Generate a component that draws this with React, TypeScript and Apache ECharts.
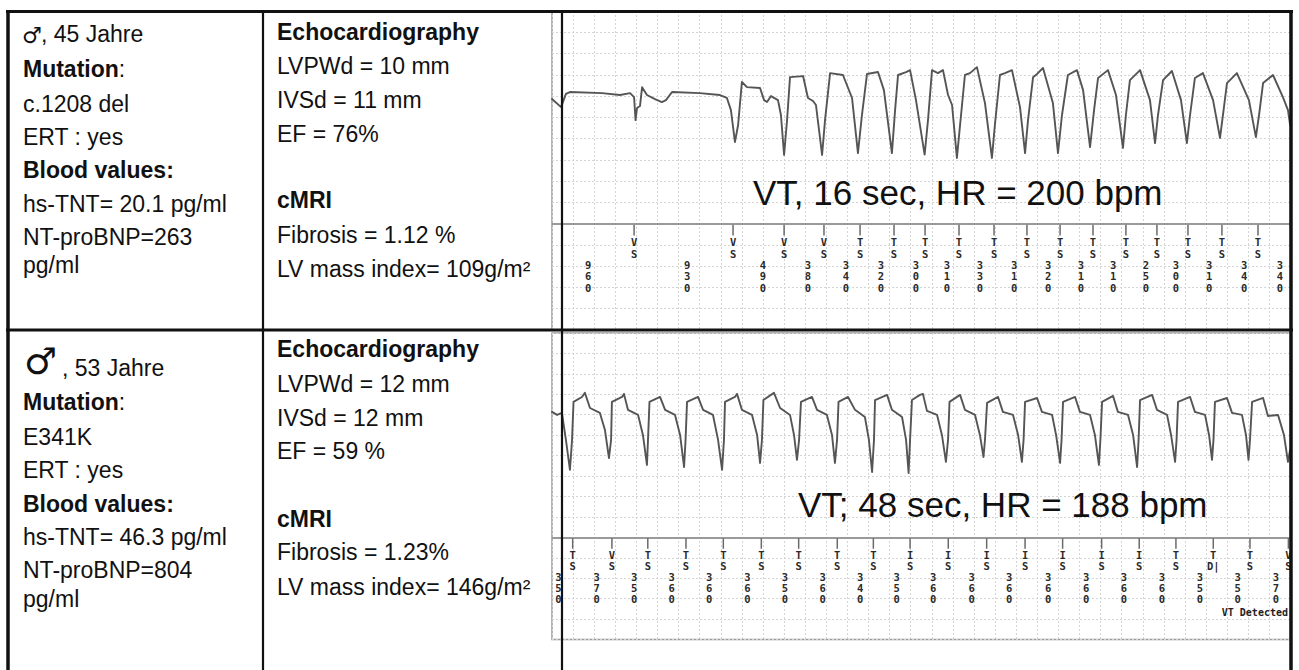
import React, { useEffect, useRef } from "react";
import * as echarts from "echarts";

const FONT = '"Liberation Sans", Arial, Helvetica, sans-serif';
const MONO = '"DejaVu Sans Mono", "Liberation Mono", monospace';

// ---------- DATA ----------
// ECG strips: [time (grid boxes), amplitude (grid boxes)]
const ECG_1: [number, number][] = [
  [0.0, 10.86], [0.43, 10.48], [0.66, 11.1], [0.85, 11.19], [2.37, 11.14], [3.22, 11.05], [3.7, 11.14],
  [3.89, 10.95], [3.96, 9.87], [4.03, 10.44], [4.17, 10.53], [4.27, 11.42], [4.5, 11.05], [4.88, 10.86],
  [5.21, 10.72], [5.4, 10.81], [5.69, 11.19], [7.01, 11.14], [7.96, 11.05], [8.29, 10.91], [8.48, 10.34],
  [8.67, 8.84], [8.82, 9.64], [9.0, 11.66], [9.24, 11.42], [9.86, 11.38], [10.05, 10.81], [10.19, 10.72],
  [10.38, 11.0], [10.71, 10.81], [10.85, 10.11], [11.0, 8.23], [11.14, 9.87], [11.28, 11.89], [11.9, 11.94],
  [12.13, 10.91], [12.37, 10.77], [12.51, 10.58], [12.8, 8.23], [12.94, 9.87], [13.18, 12.08], [13.79, 11.99],
  [14.22, 10.91], [14.5, 8.32], [14.69, 10.11], [14.93, 12.04], [15.45, 12.13], [15.73, 11.28], [16.11, 8.32],
  [16.26, 10.34], [16.4, 11.99], [16.78, 12.13], [16.97, 12.22], [17.25, 10.81], [17.66, 8.25], [17.82, 9.87],
  [18.01, 12.22], [18.29, 12.08], [18.53, 12.22], [18.77, 11.05], [18.96, 10.58], [19.19, 8.09], [19.34, 9.64],
  [19.57, 11.99], [19.81, 12.08], [20.14, 12.36], [20.52, 10.67], [20.85, 8.09], [20.99, 9.64], [21.23, 11.99],
  [21.47, 12.08], [21.8, 12.22], [22.18, 10.48], [22.42, 8.32], [22.56, 9.87], [22.8, 11.89], [22.99, 12.04],
  [23.27, 12.32], [23.74, 10.67], [23.98, 8.32], [24.17, 10.11], [24.45, 11.99], [24.88, 12.22], [25.17, 11.28],
  [25.5, 8.6], [25.69, 10.34], [25.88, 11.85], [26.35, 12.22], [26.73, 11.05], [27.06, 8.56], [27.2, 10.11],
  [27.39, 11.75], [27.87, 12.22], [28.34, 10.81], [28.58, 8.79], [28.72, 10.11], [28.96, 11.75], [29.38, 12.18],
  [29.81, 10.81], [30.09, 8.79], [30.24, 10.11], [30.47, 11.85], [30.85, 12.08], [31.33, 10.81], [31.66, 9.03],
  [31.8, 10.11], [31.99, 11.61], [32.46, 12.08], [33.03, 10.81], [33.36, 9.07], [33.51, 10.11], [33.7, 11.61],
  [34.17, 11.99], [34.64, 10.95], [34.88, 10.34], [34.98, 9.64],
];

const ECG_2: [number, number][] = [
  [0.0, 11.14], [0.24, 10.99], [0.47, 11.09], [0.66, 9.77], [0.85, 8.3], [0.95, 9.77], [1.02, 11.63],
  [1.42, 11.87], [1.56, 12.07], [1.8, 11.33], [2.27, 11.09], [2.51, 10.25], [2.7, 8.88], [2.8, 9.77],
  [2.84, 11.63], [3.32, 11.87], [3.41, 12.02], [3.6, 11.24], [4.08, 10.99], [4.31, 10.01], [4.5, 8.54],
  [4.55, 9.77], [4.62, 11.63], [5.12, 11.87], [5.36, 11.24], [5.83, 10.99], [6.07, 10.01], [6.26, 8.44],
  [6.33, 9.77], [6.4, 11.63], [6.92, 11.87], [7.16, 11.24], [7.63, 10.99], [7.87, 9.77], [8.06, 8.3],
  [8.15, 9.77], [8.2, 11.63], [8.67, 11.87], [8.77, 12.02], [9.0, 11.24], [9.48, 10.99], [9.72, 10.01],
  [9.86, 8.64], [9.95, 9.77], [10.02, 11.72], [10.52, 12.07], [10.81, 11.33], [11.28, 10.99], [11.47, 10.01],
  [11.61, 8.79], [11.71, 9.77], [11.8, 11.63], [12.32, 11.87], [12.56, 11.24], [13.03, 10.99], [13.27, 10.01],
  [13.41, 8.64], [13.51, 9.77], [13.58, 11.63], [14.03, 11.87], [14.36, 11.24], [14.83, 10.89], [15.02, 9.77],
  [15.17, 8.2], [15.26, 9.77], [15.31, 11.72], [15.88, 11.97], [16.11, 11.24], [16.59, 10.89], [16.78, 9.77],
  [16.9, 8.15], [16.97, 9.77], [17.06, 11.72], [17.44, 11.97], [17.58, 12.02], [17.77, 11.19], [18.25, 10.99],
  [18.48, 10.01], [18.67, 8.69], [18.77, 9.77], [18.84, 11.63], [19.34, 11.97], [19.57, 11.24], [20.05, 10.99],
  [20.28, 10.01], [20.45, 8.93], [20.52, 9.77], [20.62, 11.58], [21.14, 11.87], [21.37, 11.14], [21.85, 10.99],
  [22.09, 10.01], [22.27, 8.69], [22.35, 9.77], [22.42, 11.63], [22.99, 11.82], [23.22, 11.14], [23.7, 10.99],
  [23.89, 10.01], [24.08, 8.64], [24.15, 9.77], [24.22, 11.63], [24.79, 11.87], [25.02, 11.14], [25.5, 10.99],
  [25.73, 10.01], [25.92, 8.54], [25.99, 9.77], [26.07, 11.63], [26.59, 11.92], [26.82, 11.14], [27.3, 10.99],
  [27.54, 10.01], [27.73, 8.44], [27.8, 9.77], [27.87, 11.72], [28.44, 11.97], [28.67, 11.24], [29.15, 10.99],
  [29.34, 10.01], [29.53, 8.69], [29.6, 9.77], [29.67, 11.63], [30.24, 11.87], [30.47, 11.14], [30.95, 10.99],
  [31.14, 10.01], [31.28, 8.79], [31.35, 9.77], [31.42, 11.63], [31.99, 11.82], [32.23, 11.09], [32.7, 10.99],
  [32.89, 10.01], [33.01, 8.79], [33.08, 9.77], [33.18, 11.63], [33.7, 11.82], [33.93, 10.94], [34.41, 10.99],
  [34.69, 10.01], [34.88, 8.69], [34.98, 9.28],
];

// Marker channel: [time, upper label, lower label]
const MARKERS_1: [number, string, string][] = [
  [3.89, "V", "S"], [8.58, "V", "S"], [11.0, "V", "S"], [12.89, "V", "S"], [14.6, "T", "S"], [16.21, "T", "S"],
  [17.68, "T", "S"], [19.29, "T", "S"], [20.95, "T", "S"], [22.51, "T", "S"], [24.08, "T", "S"], [25.64, "T", "S"],
  [27.2, "T", "S"], [28.67, "T", "S"], [30.14, "T", "S"], [31.75, "T", "S"], [33.46, "T", "S"],
];
// Intervals (ms): [time, value]
const INTERVALS_1: [number, number][] = [
  [1.71, 960], [6.4, 930], [10.0, 490], [12.13, 380], [13.93, 340], [15.59, 320], [17.25, 300], [18.72, 310],
  [20.28, 330], [21.9, 310], [23.51, 320], [25.07, 310], [26.59, 310], [28.15, 250], [29.57, 300], [31.14, 310],
  [32.8, 340], [34.5, 340],
];

const MARKERS_2: [number, string, string][] = [
  [0.98, "T", "S"], [2.84, "V", "S"], [4.54, "T", "S"], [6.35, "T", "S"], [8.12, "T", "S"], [9.92, "T", "S"],
  [11.69, "T", "S"], [13.52, "T", "S"], [15.23, "T", "S"], [16.97, "I", "S"], [18.78, "I", "S"], [20.6, "I", "S"],
  [22.42, "I", "S"], [24.2, "I", "S"], [26.05, "I", "S"], [27.83, "I", "S"], [29.57, "T", "S"], [31.34, "T", "D|"],
  [33.08, "T", "S"], [34.9, "V", "S"],
];
const INTERVALS_2: [number, number][] = [
  [0.3, 350], [2.12, 370], [3.89, 350], [5.67, 360], [7.45, 360], [9.26, 360], [11.04, 350], [12.83, 360],
  [14.6, 340], [16.34, 350], [18.07, 360], [19.89, 360], [21.67, 360], [23.52, 360], [25.31, 360], [27.11, 360],
  [28.9, 360], [30.71, 350], [32.5, 350], [34.31, 370],
];

const STRIP_NOTE_1 = "VT, 16 sec, HR = 200 bpm";
const STRIP_NOTE_2 = "VT; 48 sec, HR = 188 bpm";
const DETECT_NOTE = "VT Detected";

const P1_PERSON = ", 45 Jahre";
const P1_LEFT = ["{b|Mutation}:", "c.1208 del", "ERT : yes", "{b|Blood values:}", "hs-TNT= 20.1 pg/ml", "NT-proBNP=263", "pg/ml"];
const P1_MID = ["{b|Echocardiography}", "LVPWd = 10 mm", "IVSd = 11 mm", "EF = 76%", "{b|cMRI}", "Fibrosis = 1.12 %", "LV mass index= 109g/m²"];
const P2_PERSON = ", 53 Jahre";
const P2_LEFT = ["{b|Mutation}:", "E341K", "ERT : yes", "{b|Blood values:}", "hs-TNT= 46.3 pg/ml", "NT-proBNP=804", "pg/ml"];
const P2_MID = ["{b|Echocardiography}", "LVPWd = 12 mm", "IVSd = 12 mm", "EF = 59 %", "{b|cMRI}", "Fibrosis = 1.23%", "LV mass index= 146g/m²"];

// ---------- LAYOUT ----------
const LEFT_X = 23;
const MID_X = 277;
const P1_LEFT_Y = [68.7, 103.7, 137, 170.3, 203.7, 237, 265];
const P1_MID_Y = [32, 66, 100.3, 133.7, 200.3, 234.7, 268.7];
const P2_LEFT_Y = [402, 437, 470.3, 503.7, 537, 570.3, 598.7];
const P2_MID_Y = [348.7, 383.7, 418, 451.3, 518.7, 552, 587];
const SEP_LEVEL = 5;
const TEXT_SIZE = 23;

function textEl(text: string, x: number, y: number, extra: any = {}) {
  return {
    type: "text",
    x,
    y,
    z: 60,
    style: {
      text,
      fill: "#111",
      fontSize: TEXT_SIZE,
      fontFamily: FONT,
      align: "left",
      verticalAlign: "middle",
      lineHeight: 28,
      rich: { b: { fontWeight: "bold", fontSize: TEXT_SIZE, fontFamily: FONT, fill: "#111", lineHeight: 28 } },
      ...extra,
    },
  };
}

function lineEl(x1: number, y1: number, x2: number, y2: number, w: number, c = "#111") {
  return { type: "line", z: 80, shape: { x1, y1, x2, y2 }, style: { stroke: c, lineWidth: w } };
}

function markerRender(markers: [number, string, string][]) {
  return (params: any, api: any) => {
    const m = markers[params.dataIndex];
    const p = api.coord([api.value(0), SEP_LEVEL]);
    const u = api.size([0, 1])[1];
    const font = `bold 10.5px ${MONO}`;
    return {
      type: "group",
      children: [
        { type: "line", shape: { x1: p[0], y1: p[1] + 1, x2: p[0], y2: p[1] + 0.56 * u }, style: { stroke: "#6a6a6a", lineWidth: 1.5 } },
        { type: "text", x: p[0], y: p[1] + 0.85 * u, style: { text: m[1], fill: "#2a2a2a", font, align: "center", verticalAlign: "middle" } },
        { type: "text", x: p[0], y: p[1] + 1.41 * u, style: { text: m[2], fill: "#2a2a2a", font, align: "center", verticalAlign: "middle" } },
      ],
    };
  };
}

function intervalRender(intervals: [number, number][]) {
  return (params: any, api: any) => {
    const v = intervals[params.dataIndex][1];
    const p = api.coord([api.value(0), SEP_LEVEL]);
    const u = api.size([0, 1])[1];
    return {
      type: "text",
      x: p[0],
      y: p[1] + 2.47 * u,
      style: {
        text: String(v).split("").join("\n"),
        fill: "#2a2a2a",
        font: `bold 10.5px ${MONO}`,
        lineHeight: 0.55 * u,
        align: "center",
        verticalAlign: "middle",
      },
    };
  };
}

function buildOption() {
  const grids = [
    { left: 552, top: 11, width: 738.5, height: 319 },
    { left: 552, top: 333, width: 738.5, height: 306.5 },
  ].map((g) => ({ ...g, show: true, borderColor: "#9a9a9a", borderWidth: 1.5, backgroundColor: "transparent" }));

  const split = { show: true, lineStyle: { color: "#d4d4d4", width: 1, type: [2, 2] } };
  const xAxis = [0, 1].map((i) => ({
    type: "value", gridIndex: i, min: 0, max: 35, interval: 1,
    axisLine: { show: false }, axisTick: { show: false }, axisLabel: { show: false }, splitLine: split,
  }));
  const yAxis = [0, 1].map((i) => ({
    type: "value", gridIndex: i, min: 0, max: 15, interval: 1,
    axisLine: { show: false }, axisTick: { show: false }, axisLabel: { show: false }, splitLine: split,
  }));

  const sepLine = {
    silent: true, symbol: ["none", "none"], label: { show: false },
    lineStyle: { color: "#9a9a9a", width: 2, type: "solid" }, data: [{ yAxis: SEP_LEVEL }],
  };
  const ecgStyle = { color: "#555555", width: 1.9, cap: "round", join: "round" };

  const series: any[] = [
    { type: "line", xAxisIndex: 0, yAxisIndex: 0, data: ECG_1, symbol: "none", lineStyle: ecgStyle, markLine: sepLine, z: 5 },
    { type: "line", xAxisIndex: 1, yAxisIndex: 1, data: ECG_2, symbol: "none", lineStyle: ecgStyle, markLine: sepLine, z: 5 },
    { type: "custom", xAxisIndex: 0, yAxisIndex: 0, data: MARKERS_1.map((m) => [m[0]]), renderItem: markerRender(MARKERS_1), z: 6 },
    { type: "custom", xAxisIndex: 0, yAxisIndex: 0, data: INTERVALS_1.map((m) => [m[0], m[1]]), renderItem: intervalRender(INTERVALS_1), z: 6 },
    { type: "custom", xAxisIndex: 1, yAxisIndex: 1, data: MARKERS_2.map((m) => [m[0]]), renderItem: markerRender(MARKERS_2), z: 6 },
    { type: "custom", xAxisIndex: 1, yAxisIndex: 1, data: INTERVALS_2.map((m) => [m[0], m[1]]), renderItem: intervalRender(INTERVALS_2), z: 6 },
  ];

  const elements: any[] = [
    // table lines
    lineEl(6, 11.5, 1293, 11.5, 3),
    lineEl(6, 330, 1293, 330, 3),
    lineEl(8, 10, 8, 670, 3.5),
    lineEl(263, 11, 263, 670, 2.2),
    lineEl(562, 11, 562, 670, 2.2),
    lineEl(1291, 10, 1291, 670, 3.5),
    // patient 1
    textEl("♂", 22, 35, { fontSize: 22, fontFamily: '"DejaVu Sans", sans-serif' }),
    textEl(P1_PERSON, 41, 33.7),
    ...P1_LEFT.map((t, i) => textEl(t, LEFT_X, P1_LEFT_Y[i])),
    ...P1_MID.map((t, i) => textEl(t, MID_X, P1_MID_Y[i])),
    // patient 2
    textEl("♂", 24, 361, { fontSize: 37, fontWeight: "bold", fontFamily: '"DejaVu Sans", sans-serif', lineHeight: 40 }),
    textEl(P2_PERSON, 62, 368),
    ...P2_LEFT.map((t, i) => textEl(t, LEFT_X, P2_LEFT_Y[i])),
    ...P2_MID.map((t, i) => textEl(t, MID_X, P2_MID_Y[i])),
    // strip notes
    textEl(STRIP_NOTE_1, 753, 192.9, { fontSize: 35, lineHeight: 40 }),
    textEl(STRIP_NOTE_2, 798, 504.6, { fontSize: 35, lineHeight: 40 }),
    textEl(DETECT_NOTE, 1288, 612, { fontSize: 10, fontFamily: MONO, fontWeight: "bold", align: "right", fill: "#222", lineHeight: 10 }),
  ];

  return {
    animation: false,
    backgroundColor: "#ffffff",
    grid: grids,
    xAxis,
    yAxis,
    series,
    graphic: { elements },
  };
}

export default function App() {
  const ref = useRef<HTMLDivElement>(null);
  useEffect(() => {
    if (!ref.current) return;
    const chart = echarts.init(ref.current, undefined, { renderer: "svg" });
    chart.setOption(buildOption() as any);
    return () => chart.dispose();
  }, []);
  return (
    <div
      ref={ref}
      style={{ position: "fixed", left: 0, top: 0, width: 1299, height: 670, background: "#fff" }}
    />
  );
}
